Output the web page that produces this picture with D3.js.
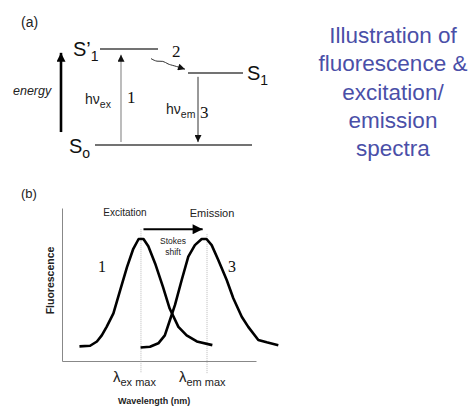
<!DOCTYPE html>
<html>
<head>
<meta charset="utf-8">
<script src="https://cdn.jsdelivr.net/npm/d3@7"></script>
<style>
  body { margin: 0; background: #fff; }
  svg { display: block; font-family: Arial, "Liberation Sans", sans-serif; }
</style>
</head>
<body>
<div id="chart"></div>
<script>
// ---- panel (a): energy levels ----
const levelNames = ['S0', "S'1", 'S1'];
const levelEnergy = [0, 100, 75];
const levelStart = [35, 40, 128];
const levelEnd = [192, 98, 183];

// ---- panel (b): spectra ----
const excitation = [
  [18, 12], [29, 12.5], [36, 16], [41, 21], [46, 28], [53, 39], [60, 58], [67, 77],
  [73.5, 92], [79, 100], [84, 100], [89, 94], [96, 80], [104, 61], [111, 43],
  [120, 28], [128.5, 21], [139, 16], [155, 13]
];
const emission = [
  [81, 11], [90.7, 11.7], [99.3, 14.5], [106, 21], [111.3, 33.6], [116.5, 46], [123.4, 66.4],
  [130.2, 85.5], [137, 95], [144, 100], [149, 100], [154.3, 95], [161, 83], [169.8, 66.4],
  [176.6, 51.4], [185.3, 36.3], [192, 28], [202.4, 17.2], [211, 15.3], [223, 13]
];
const exMax = 81.4;
const emMax = 149.5;

const titleLines = ['Illustration of', 'fluorescence &', 'excitation/', 'emission', 'spectra'];

const width = 470, height = 408;

const svg = d3.select('#chart')
  .append('svg')
  .attr('width', width)
  .attr('height', height);

const defs = svg.append('defs');
function marker(id, color, w, h) {
  defs.append('marker')
    .attr('id', id)
    .attr('viewBox', '0 0 10 10')
    .attr('refX', 10).attr('refY', 5)
    .attr('markerUnits', 'userSpaceOnUse')
    .attr('markerWidth', w).attr('markerHeight', h)
    .attr('orient', 'auto')
    .append('path')
    .attr('d', 'M0,0L10,5L0,10z')
    .attr('fill', color);
}
marker('headBig', '#000', 10, 9);
marker('headSmall', '#111', 8, 7);
marker('headMid', '#000', 11, 10);

// ---------- panel (a) ----------
const xa = d3.scaleLinear().domain([0, 200]).range([60, 260]);
const ya = d3.scaleLinear().domain([0, 100]).range([145, 49]);

svg.append('text')
  .attr('x', 21).attr('y', 27)
  .attr('font-size', 14).attr('fill', '#222')
  .text('(a)');

// energy arrow
svg.append('line')
  .attr('x1', xa(1)).attr('x2', xa(1))
  .attr('y1', ya(13.5)).attr('y2', ya(96))
  .attr('stroke', '#000').attr('stroke-width', 2.6)
  .attr('marker-end', 'url(#headBig)');

svg.append('text')
  .attr('x', 13).attr('y', 95)
  .attr('font-size', 12.5).attr('font-style', 'italic').attr('fill', '#222')
  .text('energy');

// levels
levelNames.forEach((n, i) => {
  svg.append('line')
    .attr('x1', xa(levelStart[i])).attr('x2', xa(levelEnd[i]))
    .attr('y1', ya(levelEnergy[i])).attr('y2', ya(levelEnergy[i]))
    .attr('stroke', '#444').attr('stroke-width', 1.3);
});

// level labels
function levelLabel(x, y, main, prime, sub) {
  const t = svg.append('text').attr('x', x).attr('y', y).attr('font-size', 20).attr('fill', '#111');
  t.append('tspan').text(main + prime);
  t.append('tspan').attr('dy', 5).attr('font-size', 14).text(sub);
}
levelLabel(xa(levelStart[1]) - 27, ya(levelEnergy[1]) + 7, 'S', '\u2019', '1');
levelLabel(xa(levelEnd[2]) + 4, ya(levelEnergy[2]) + 7, 'S', '', '1');
levelLabel(xa(levelStart[0]) - 26, ya(levelEnergy[0]) + 8, 'S', '', 'o');

// excitation arrow (1)
svg.append('line')
  .attr('x1', xa(61)).attr('x2', xa(61))
  .attr('y1', ya(3)).attr('y2', ya(94))
  .attr('stroke', '#999').attr('stroke-width', 1.3)
  .attr('marker-end', 'url(#headSmall)');

// emission arrow (3)
svg.append('line')
  .attr('x1', xa(138)).attr('x2', xa(138))
  .attr('y1', ya(71)).attr('y2', ya(3))
  .attr('stroke', '#333').attr('stroke-width', 1)
  .attr('marker-end', 'url(#headSmall)');

// wavy relaxation arrow (2)
const wave = [[91, 90], [97, 86.5], [103, 88], [108, 84], [113, 83], [125, 79]];
svg.append('path')
  .attr('d', d3.line().x(d => xa(d[0])).y(d => ya(d[1])).curve(d3.curveBasis)(wave))
  .attr('fill', 'none').attr('stroke', '#333').attr('stroke-width', 1)
  .attr('marker-end', 'url(#headSmall)');

function hv(x, y, sub) {
  const t = svg.append('text').attr('x', x).attr('y', y).attr('font-size', 14).attr('fill', '#222');
  t.append('tspan').text('h\u03bd');
  t.append('tspan').attr('dy', 4).attr('font-size', 10.5).text(sub);
}
hv(85, 104, 'ex');
hv(166, 114, 'em');

function num(x, y, s, size) {
  svg.append('text').attr('x', x).attr('y', y)
    .attr('font-size', size).attr('font-family', '"Liberation Serif", "DejaVu Serif", serif')
    .attr('fill', '#111').text(s);
}
num(127, 103, '1', 17);
num(200, 118, '3', 17);
num(172, 57, '2', 17);

// title
svg.append('text')
  .attr('text-anchor', 'middle')
  .attr('font-size', 22.5)
  .attr('fill', '#4a4fa8')
  .selectAll('tspan')
  .data(titleLines)
  .join('tspan')
  .attr('x', 393)
  .attr('y', (d, i) => 43 + i * 28.3)
  .text(d => d);

// ---------- panel (b) ----------
const x = d3.scaleLinear().domain([0, 200]).range([62, 256]);
const y = d3.scaleLinear().domain([0, 100]).range([361, 239]);

svg.append('text')
  .attr('x', 21).attr('y', 198)
  .attr('font-size', 13).attr('fill', '#222')
  .text('(b)');

// axes without ticks
svg.append('g')
  .attr('transform', `translate(0,${y(0)})`)
  .call(d3.axisBottom(x).tickValues([]).tickSizeOuter(0))
  .call(g => g.select('.domain').attr('stroke', '#888'));
svg.append('g')
  .attr('transform', `translate(${x(0)},0)`)
  .call(d3.axisLeft(y.copy().domain([0, 125.4]).range([361, 208])).tickValues([]).tickSizeOuter(0))
  .call(g => g.select('.domain').attr('stroke', '#888'));

// dotted peak markers
[[exMax, 108], [emMax, 104]].forEach(([w, top]) => {
  svg.append('line')
    .attr('x1', x(w)).attr('x2', x(w))
    .attr('y1', y(top)).attr('y2', y(-10))
    .attr('stroke', '#aaa').attr('stroke-width', 0.8)
    .attr('stroke-dasharray', '1,1');
});

const line = d3.line().x(d => x(d[0])).y(d => y(d[1]));
[excitation, emission].forEach(s => {
  svg.append('path')
    .datum(s)
    .attr('fill', 'none')
    .attr('stroke', '#000')
    .attr('stroke-width', 2.6)
    .attr('stroke-linejoin', 'round')
    .attr('d', line);
});

// stokes shift arrow
svg.append('line')
  .attr('x1', x(84)).attr('x2', x(145))
  .attr('y1', y(108)).attr('y2', y(108))
  .attr('stroke', '#000').attr('stroke-width', 2)
  .attr('marker-end', 'url(#headMid)');

svg.append('text').attr('x', 125).attr('y', 216)
  .attr('text-anchor', 'middle').attr('font-size', 10).attr('fill', '#222').text('Excitation');
svg.append('text').attr('x', 212).attr('y', 217)
  .attr('text-anchor', 'middle').attr('font-size', 11).attr('fill', '#222').text('Emission');
svg.append('text').attr('x', 173).attr('y', 244)
  .attr('text-anchor', 'middle').attr('font-size', 8.5).attr('fill', '#222').text('Stokes');
svg.append('text').attr('x', 173).attr('y', 255)
  .attr('text-anchor', 'middle').attr('font-size', 8.5).attr('fill', '#222').text('shift');

num(98, 272, '1', 16);
num(228, 272, '3', 16);

svg.append('text')
  .attr('transform', `translate(54,${y(66)}) rotate(-90)`)
  .attr('text-anchor', 'middle')
  .attr('font-size', 10.5).attr('font-weight', 'bold').attr('fill', '#222')
  .text('Fluorescence');

function lambda(w, sub) {
  const t = svg.append('text').attr('x', x(w) - 28).attr('y', 382).attr('font-size', 15).attr('fill', '#222');
  t.append('tspan').text('\u03bb');
  t.append('tspan').attr('dy', 4).attr('font-size', 11).text(sub);
}
lambda(exMax, 'ex max');
lambda(emMax, 'em max');

svg.append('text')
  .attr('x', x(95)).attr('y', 404)
  .attr('text-anchor', 'middle')
  .attr('font-size', 9).attr('font-weight', 'bold').attr('fill', '#222')
  .text('Wavelength (nm)');
</script>
</body>
</html>
